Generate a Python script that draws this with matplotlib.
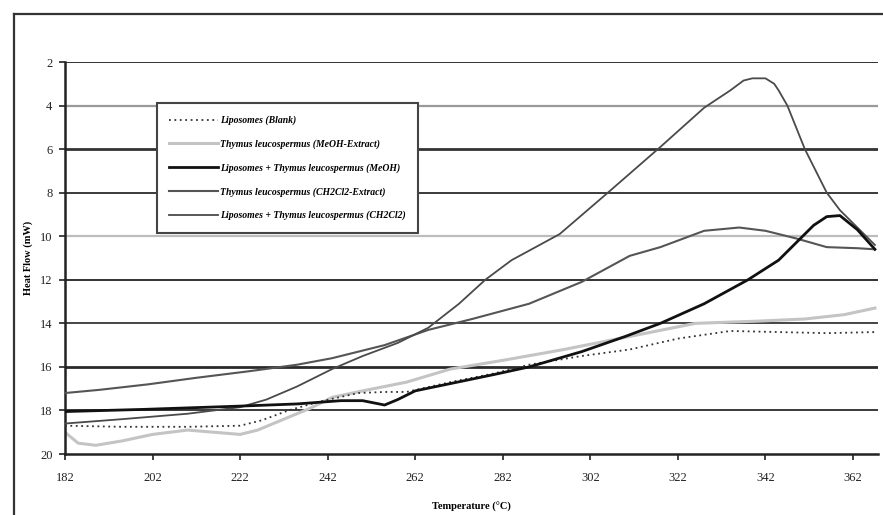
"""
DSC thermograms of liposomes with Thymus leucospermus extracts.
"""
import matplotlib
matplotlib.use("Agg")
import matplotlib.pyplot as plt
from matplotlib.lines import Line2D

# --- values ---
x_blank = [182, 195, 210, 222, 227, 233, 240, 249, 255, 260, 270, 280, 288, 300, 311, 322, 334, 345, 356, 367]
y_blank = [18.7, 18.75, 18.75, 18.7, 18.45, 18.0, 17.6, 17.2, 17.15, 17.15, 16.7, 16.3, 15.9, 15.5, 15.2, 14.7, 14.35, 14.4, 14.45, 14.4]

x_meoh_ext = [182, 185, 189, 195, 202, 210, 216, 222, 226, 232, 238, 243, 250, 260, 270, 282, 296, 311, 326, 340, 351, 360, 367]
y_meoh_ext = [19.0, 19.5, 19.6, 19.4, 19.1, 18.9, 19.0, 19.1, 18.9, 18.4, 17.9, 17.4, 17.1, 16.7, 16.1, 15.7, 15.2, 14.6, 14.0, 13.9, 13.8, 13.6, 13.3]

x_lipo_meoh = [182, 200, 222, 235, 245, 250, 255, 258, 262, 274, 280, 288, 300, 310, 318, 328, 338, 345, 350, 353, 356, 359, 363, 367]
y_lipo_meoh = [18.05, 17.95, 17.8, 17.7, 17.55, 17.55, 17.75, 17.5, 17.1, 16.6, 16.35, 16.0, 15.3, 14.6, 14.0, 13.1, 12.0, 11.1, 10.1, 9.5, 9.1, 9.05, 9.7, 10.6]

x_ch2cl2_ext = [182, 190, 201, 212, 224, 235, 243, 255, 265, 275, 288, 300, 311, 318, 328, 336, 342, 349, 356, 363, 367]
y_ch2cl2_ext = [17.2, 17.05, 16.8, 16.5, 16.2, 15.9, 15.6, 15.0, 14.3, 13.8, 13.1, 12.1, 10.9, 10.5, 9.75, 9.6, 9.75, 10.1, 10.5, 10.55, 10.6]

x_lipo_ch2cl2 = [182, 195, 210, 222, 228, 235, 243, 250, 258, 265, 272, 278, 284, 295, 306, 318, 328, 334, 337, 339, 342, 344, 345, 347, 351, 356, 359, 364, 367]
y_lipo_ch2cl2 = [18.6, 18.4, 18.15, 17.85, 17.5, 16.9, 16.1, 15.5, 14.9, 14.2, 13.1, 12.0, 11.1, 9.9, 8.0, 5.9, 4.1, 3.3, 2.85, 2.75, 2.75, 3.0, 3.3, 4.0, 6.0, 8.0, 8.8, 9.8, 10.4]

x_ticks = [182, 202, 222, 242, 262, 282, 302, 322, 342, 362]
y_ticks = [2, 4, 6, 8, 10, 12, 14, 16, 18, 20]
labels = ["Liposomes (Blank)",
          "Thymus leucospermus (MeOH-Extract)",
          "Liposomes + Thymus leucospermus (MeOH)",
          "Thymus leucospermus (CH2Cl2-Extract)",
          "Liposomes + Thymus leucospermus (CH2Cl2)"]

plt.rcParams["font.family"] = ["Liberation Serif", "DejaVu Serif"]

fig = plt.figure(figsize=(8.83, 5.15), dpi=100)
ax = fig.add_axes([0.0736, 0.1184, 0.9207, 0.7612])

# gridlines of uneven darkness like the scanned original
grid_shade = {2: ("#333333", 1.4), 4: ("#9a9a9a", 1.6), 6: ("#333333", 2.0), 8: ("#3a3a3a", 1.4),
              10: ("#bdbdbd", 1.6), 12: ("#333333", 1.4), 14: ("#444444", 1.4), 16: ("#2a2a2a", 2.0),
              18: ("#3a3a3a", 1.4)}
for yv, (c, lw) in grid_shade.items():
    ax.axhline(yv, color=c, lw=lw, zorder=1)

ax.plot(x_ch2cl2_ext, y_ch2cl2_ext, color="#555555", lw=1.5, zorder=3, label=labels[3])
ax.plot(x_meoh_ext, y_meoh_ext, color="#c4c4c4", lw=2.2, zorder=2, label=labels[1])
ax.plot(x_blank, y_blank, color="#333333", lw=1.3, ls=(0, (1, 2)), zorder=4, label=labels[0])
ax.plot(x_lipo_ch2cl2, y_lipo_ch2cl2, color="#4a4a4a", lw=1.3, zorder=3, label=labels[4])
ax.plot(x_lipo_meoh, y_lipo_meoh, color="#111111", lw=2.0, zorder=5, label=labels[2])

ax.set_xlim(182, 367.7)
ax.set_ylim(20, 2)
ax.set_xticks(x_ticks)
ax.set_yticks(y_ticks)
ax.tick_params(labelsize=9, length=4, width=1.2, colors="#222222")
ax.tick_params(axis="x", pad=9)
ax.tick_params(axis="y", pad=5)
for s in ["top", "right"]:
    ax.spines[s].set_visible(False)
for s in ["left", "bottom"]:
    ax.spines[s].set_linewidth(1.8)
    ax.spines[s].set_color("#222222")

ax.set_ylabel("Heat Flow (mW)", fontsize=7.5, fontweight="bold", labelpad=5)
ax.set_xlabel("Temperature (\u00b0C)", fontsize=7.5, fontweight="bold", labelpad=13)

h = {l.get_label(): l for l in ax.get_lines() if not l.get_label().startswith("_")}
leg = ax.legend([h[l] for l in labels], labels, loc="upper left",
                bbox_to_anchor=(0.113, 0.895), borderaxespad=0, fancybox=False,
                framealpha=1, edgecolor="#444444", handlelength=5.0, handletextpad=0.2,
                labelspacing=1.45, borderpad=1.3,
                prop={"size": 7, "style": "italic", "weight": "bold"})
leg.get_frame().set_linewidth(1.5)
leg.set_zorder(10)

# outer frame of the scanned figure
fig.add_artist(Line2D([14 / 883, 14 / 883], [0, 1 - 14 / 515], color="#333333", lw=1.6))
fig.add_artist(Line2D([14 / 883, 1], [1 - 14 / 515, 1 - 14 / 515], color="#333333", lw=1.6))

fig.savefig("out.png", dpi=100)
